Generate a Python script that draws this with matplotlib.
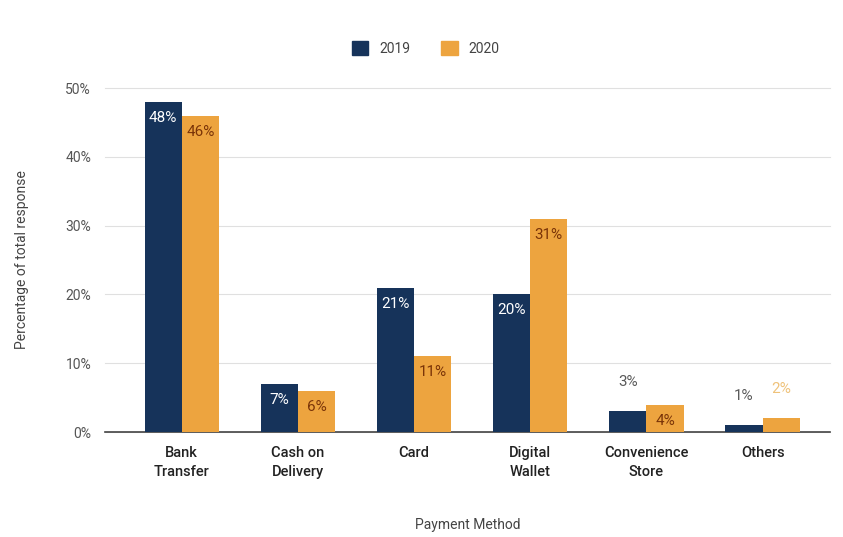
import numpy as np
import matplotlib.pyplot as plt
from matplotlib.patches import Patch

plt.rcParams['font.family'] = ['Roboto', 'DejaVu Sans']

methods = ['Bank\nTransfer', 'Cash on\nDelivery', 'Card', 'Digital\nWallet',
           'Convenience\nStore', 'Others']
years = ['2019', '2020']
share_2019 = [48, 7, 21, 20, 3, 1]
share_2020 = [46, 6, 11, 31, 4, 2]

navy = '#16335a'
orange = '#eda43f'

fig = plt.figure(figsize=(8.43, 5.37), dpi=100)
ax = fig.add_axes([0.1246, 0.1955, 0.86, 0.6405])

x = np.arange(len(methods))
w = 0.32
b1 = ax.bar(x - w / 2, share_2019, w, color=navy, zorder=3)
b2 = ax.bar(x + w / 2, share_2020, w, color=orange, zorder=3)


# value labels: inside the bar top when tall enough, above it otherwise
def put_labels(bars, vals, in_col, out_col):
    for bar, v in zip(bars, vals):
        cx = bar.get_x() + bar.get_width() / 2
        if v >= 4:
            ax.annotate(f'{v}%', (cx, v), xytext=(0, -16), textcoords='offset pixels',
                        ha='center', va='center', fontsize=11, color=in_col, zorder=4)
        else:
            ax.annotate(f'{v}%', (cx, v), xytext=(0, 29), textcoords='offset pixels',
                        ha='center', va='center', fontsize=11, color=out_col, zorder=4)


put_labels(b1, share_2019, 'white', '#5a5a5a')
put_labels(b2, share_2020, '#7a3408', '#efc27a')

ax.set_xlim(-0.66, 5.58)
ax.set_ylim(0, 50)
ax.set_yticks([0, 10, 20, 30, 40, 50])
ax.set_yticklabels([f'{t}%' for t in [0, 10, 20, 30, 40, 50]])
ax.set_xticks(x)
ax.set_xticklabels(methods, fontsize=10.5, color='#222222', linespacing=1.5,
                   fontweight='medium')
ax.tick_params(axis='y', length=0, labelsize=10, colors='#555555', pad=10)
ax.tick_params(axis='x', length=0, pad=10)

ax.grid(axis='y', color='#e0e0e0', linewidth=0.8, zorder=0)
for s in ['top', 'right', 'left']:
    ax.spines[s].set_visible(False)
ax.spines['bottom'].set_color('#444444')
ax.spines['bottom'].set_linewidth(1.2)
for gl in ax.get_ygridlines():
    gl.set_clip_on(False)

ax.set_xlabel('Payment Method', fontsize=10, color='#444444', labelpad=28)
ax.set_ylabel('Percentage of total response', fontsize=10, color='#444444', labelpad=26)

handles = [Patch(color=navy), Patch(color=orange)]
fig.legend(handles, years, loc='center', bbox_to_anchor=(0.505, 0.91), ncol=2,
           frameon=False, fontsize=10, handlelength=1.2, handleheight=1.2,
           columnspacing=2.2, labelcolor='#444444')

fig.savefig('out.png', dpi=100)
